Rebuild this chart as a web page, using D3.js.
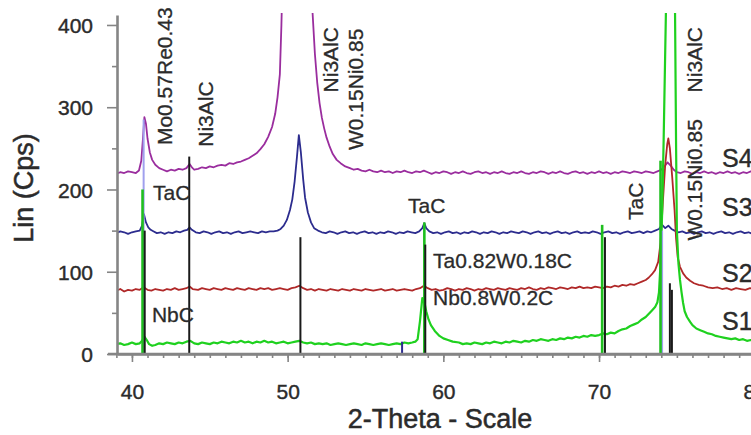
<!DOCTYPE html>
<html><head><meta charset="utf-8">
<script src="https://cdn.jsdelivr.net/npm/d3@7"></script>
<style>html,body{margin:0;padding:0;background:#fff;overflow:hidden}text{font-family:"Liberation Sans",Arial,sans-serif}</style>
</head><body><svg id="c" width="751" height="435"></svg>
<script>
// ---------- data (2-theta, Lin counts) ----------
const s1 = [[39.0,12],[39.25,13],[39.5,11],[39.75,12],[40.0,14],[40.25,12],[40.5,13],[40.65,16],[40.8,21],[40.95,17],[41.1,12],[41.3,10],[41.5,11],[41.75,13],[42.0,12],[42.25,14],[42.5,13],[42.75,12],[43.0,14],[43.25,13],[43.5,15],[43.75,16],[44.0,13],[44.25,12],[44.5,14],[44.75,13],[45.0,12],[45.25,14],[45.5,13],[45.75,15],[46.0,14],[46.25,13],[46.5,15],[46.75,14],[47.0,16],[47.25,14],[47.5,15],[47.75,13],[48.0,15],[48.25,14],[48.5,16],[48.75,14],[49.0,15],[49.25,13],[49.5,14],[49.75,15],[50.0,13],[50.25,14],[50.5,15],[50.75,16],[51.0,14],[51.25,13],[51.5,14],[51.75,12],[52.0,13],[52.25,12],[52.5,13],[52.75,11],[53.0,12],[53.25,13],[53.5,12],[53.75,11],[54.0,12],[54.25,13],[54.5,12],[54.75,11],[55.0,13],[55.25,12],[55.5,11],[55.75,12],[56.0,13],[56.25,12],[56.5,11],[56.75,12],[57.0,13],[57.25,12],[57.5,14],[57.75,13],[58.0,14],[58.2,15],[58.35,18],[58.5,40],[58.65,68],[58.75,66],[58.9,52],[59.05,42],[59.2,35],[59.45,28],[59.75,22],[60.0,19],[60.3,17],[60.6,15],[61.0,14],[61.25,12],[61.5,13],[61.75,12],[62.0,14],[62.25,13],[62.5,12],[62.75,14],[63.0,13],[63.25,15],[63.5,14],[63.75,13],[64.0,15],[64.25,14],[64.5,16],[64.75,15],[65.0,14],[65.25,16],[65.5,15],[65.75,17],[66.0,16],[66.25,18],[66.5,17],[66.75,16],[67.0,18],[67.25,17],[67.5,19],[67.75,18],[68.0,20],[68.25,19],[68.5,21],[68.75,20],[69.0,22],[69.25,21],[69.5,23],[69.75,22],[70.0,23],[70.25,25],[70.5,24],[70.75,26],[71.0,25],[71.25,28],[71.5,30],[71.75,31],[72.0,34],[72.25,36],[72.5,38],[72.75,42],[73.0,45],[73.2,49],[73.4,53],[73.6,57],[73.75,63],[73.85,75],[73.95,110],[74.05,170],[74.15,260],[74.3,420],[74.45,700],[74.6,900],[74.75,700],[74.88,420],[74.95,250],[75.0,150],[75.1,110],[75.2,90],[75.3,75],[75.4,62],[75.5,52],[75.65,45],[75.85,39],[76.0,35],[76.25,31],[76.5,29],[76.75,27],[77.0,25],[77.25,24],[77.5,22],[77.75,21],[78.0,20],[78.25,19],[78.5,18],[78.75,19],[79.0,17],[79.25,18],[79.5,16],[79.75,17],[80.0,16],[80.25,17],[80.5,16]];
const s2 = [[39.0,77],[39.25,79],[39.5,76],[39.75,78],[40.0,77],[40.25,79],[40.5,78],[40.75,81],[41.0,78],[41.25,77],[41.5,79],[41.75,78],[42.0,77],[42.25,79],[42.5,78],[42.75,80],[43.0,78],[43.25,79],[43.5,80],[43.7,82],[43.9,79],[44.25,78],[44.5,80],[44.75,79],[45.0,78],[45.25,80],[45.5,79],[45.75,78],[46.0,80],[46.25,79],[46.5,78],[46.75,80],[47.0,79],[47.25,78],[47.5,80],[47.75,79],[48.0,78],[48.25,80],[48.5,79],[48.75,80],[49.0,78],[49.25,79],[49.5,80],[49.75,79],[50.0,78],[50.25,80],[50.5,81],[50.75,83],[51.0,80],[51.25,78],[51.5,79],[51.75,77],[52.0,79],[52.25,78],[52.5,77],[52.75,79],[53.0,78],[53.25,77],[53.5,79],[53.75,78],[54.0,77],[54.25,79],[54.5,78],[54.75,77],[55.0,79],[55.25,78],[55.5,77],[55.75,78],[56.0,79],[56.25,77],[56.5,78],[56.75,79],[57.0,77],[57.25,78],[57.5,79],[57.75,78],[58.0,77],[58.25,79],[58.5,80],[58.75,83],[59.0,80],[59.25,78],[59.5,79],[59.75,77],[60.0,78],[60.25,80],[60.5,79],[60.75,77],[61.0,79],[61.25,78],[61.5,80],[61.75,79],[62.0,77],[62.25,79],[62.5,78],[62.75,80],[63.0,79],[63.25,78],[63.5,80],[63.75,79],[64.0,78],[64.25,80],[64.5,79],[64.75,78],[65.0,80],[65.25,79],[65.5,81],[65.75,79],[66.0,78],[66.25,80],[66.5,79],[66.75,81],[67.0,80],[67.25,79],[67.5,81],[67.75,80],[68.0,79],[68.25,81],[68.5,80],[68.75,82],[69.0,80],[69.25,81],[69.5,80],[69.75,82],[70.0,81],[70.25,80],[70.5,82],[70.75,81],[71.0,83],[71.25,82],[71.5,84],[71.75,83],[72.0,85],[72.25,84],[72.5,86],[72.75,88],[73.0,90],[73.2,93],[73.4,97],[73.6,102],[73.8,112],[73.95,135],[74.1,185],[74.25,230],[74.38,255],[74.45,262],[74.55,250],[74.7,215],[74.85,175],[74.95,140],[75.05,118],[75.2,106],[75.4,98],[75.6,93],[75.85,89],[76.1,86],[76.4,84],[76.7,83],[77.0,81],[77.3,80],[77.6,81],[77.9,79],[78.2,80],[78.5,78],[78.8,80],[79.1,79],[79.4,78],[79.7,80],[80.0,79],[80.5,78]];
const s3 = [[39.0,147],[39.25,149],[39.5,148],[39.75,146],[40.0,148],[40.25,149],[40.5,150],[40.65,156],[40.77,170],[40.9,160],[41.05,154],[41.2,151],[41.4,149],[41.6,147],[41.85,148],[42.1,146],[42.35,148],[42.6,147],[42.85,149],[43.1,148],[43.35,150],[43.55,151],[43.7,154],[43.85,151],[44.1,148],[44.35,147],[44.6,149],[44.85,148],[45.1,146],[45.35,148],[45.6,149],[45.85,147],[46.1,148],[46.35,146],[46.6,148],[46.85,149],[47.1,147],[47.35,148],[47.6,149],[47.85,148],[48.1,147],[48.35,149],[48.6,148],[48.85,149],[49.1,149],[49.35,150],[49.55,152],[49.75,156],[49.95,163],[50.15,175],[50.3,188],[50.45,210],[50.6,240],[50.72,266],[50.85,245],[51.0,212],[51.12,190],[51.3,172],[51.5,160],[51.7,153],[51.95,150],[52.2,148],[52.45,147],[52.7,149],[52.95,148],[53.2,146],[53.45,148],[53.7,149],[53.95,147],[54.2,148],[54.45,146],[54.7,148],[54.95,149],[55.2,147],[55.45,148],[55.7,146],[55.95,148],[56.2,147],[56.45,149],[56.7,148],[56.95,146],[57.2,148],[57.45,147],[57.7,149],[57.95,148],[58.2,147],[58.45,149],[58.65,153],[58.78,159],[58.9,153],[59.1,149],[59.35,147],[59.6,148],[59.85,146],[60.1,148],[60.35,149],[60.6,147],[60.85,148],[61.1,146],[61.35,148],[61.6,147],[61.85,149],[62.1,148],[62.35,146],[62.6,148],[62.85,147],[63.1,149],[63.35,148],[63.6,146],[63.85,148],[64.1,147],[64.35,149],[64.6,148],[64.85,147],[65.1,149],[65.35,148],[65.6,146],[65.85,148],[66.1,149],[66.35,147],[66.6,148],[66.85,146],[67.1,148],[67.35,149],[67.6,147],[67.85,148],[68.1,146],[68.35,148],[68.6,149],[68.85,147],[69.1,148],[69.35,147],[69.6,149],[69.85,148],[70.1,146],[70.35,148],[70.6,149],[70.85,147],[71.1,148],[71.35,146],[71.6,148],[71.85,149],[72.1,147],[72.35,148],[72.6,149],[72.85,147],[73.1,149],[73.35,148],[73.6,150],[73.85,152],[74.05,157],[74.25,153],[74.45,156],[74.65,152],[74.85,150],[75.1,148],[75.35,149],[75.6,147],[75.85,148],[76.1,146],[76.35,148],[76.6,149],[76.85,147],[77.1,148],[77.35,146],[77.6,148],[77.85,149],[78.1,147],[78.35,148],[78.6,146],[78.85,148],[79.1,149],[79.35,147],[79.6,148],[79.85,146],[80.1,148],[80.5,147]];
const s4 = [[39.0,219],[39.25,221],[39.5,220],[39.75,222],[40.0,221],[40.25,220],[40.45,223],[40.6,235],[40.7,260],[40.8,288],[40.9,280],[41.0,262],[41.15,245],[41.3,236],[41.5,230],[41.75,226],[42.0,224],[42.25,222],[42.5,224],[42.75,223],[43.0,225],[43.25,224],[43.5,226],[43.7,231],[43.85,227],[44.0,224],[44.25,225],[44.5,227],[44.75,226],[45.0,228],[45.25,227],[45.5,229],[45.75,230],[46.0,229],[46.25,232],[46.5,231],[46.75,233],[47.0,234],[47.25,236],[47.5,238],[47.75,241],[48.0,244],[48.25,249],[48.5,255],[48.75,264],[49.0,276],[49.2,292],[49.35,312],[49.5,340],[49.6,400],[49.75,520],[49.9,700],[50.1,1000],[50.4,1400],[50.65,1500],[50.9,1300],[51.15,950],[51.35,650],[51.5,480],[51.6,415],[51.75,365],[51.9,330],[52.05,305],[52.2,287],[52.35,274],[52.5,263],[52.7,252],[52.9,243],[53.15,236],[53.4,232],[53.7,228],[54.0,226],[54.25,224],[54.5,225],[54.75,223],[55.0,222],[55.25,224],[55.5,222],[55.75,221],[56.0,223],[56.25,221],[56.5,222],[56.75,220],[57.0,222],[57.25,221],[57.5,223],[57.75,221],[58.0,220],[58.25,222],[58.5,221],[58.75,223],[59.0,221],[59.25,219],[59.5,221],[59.75,220],[60.0,222],[60.25,221],[60.5,219],[60.75,221],[61.0,220],[61.25,222],[61.5,220],[61.75,219],[62.0,221],[62.25,222],[62.5,220],[62.75,221],[63.0,219],[63.25,221],[63.5,220],[63.75,222],[64.0,220],[64.25,219],[64.5,221],[64.75,220],[65.0,222],[65.25,220],[65.5,219],[65.75,221],[66.0,220],[66.25,222],[66.5,221],[66.75,219],[67.0,221],[67.25,220],[67.5,222],[67.75,220],[68.0,219],[68.25,221],[68.5,222],[68.75,220],[69.0,221],[69.25,219],[69.5,221],[69.75,220],[70.0,222],[70.25,220],[70.5,221],[70.75,219],[71.0,221],[71.25,220],[71.5,222],[71.75,221],[72.0,220],[72.25,222],[72.5,221],[72.75,220],[73.0,222],[73.25,221],[73.5,220],[73.75,222],[74.0,224],[74.2,228],[74.4,233],[74.6,229],[74.8,224],[75.0,221],[75.25,220],[75.5,222],[75.75,221],[76.0,219],[76.25,221],[76.5,220],[76.75,222],[77.0,220],[77.25,221],[77.5,219],[77.75,221],[78.0,220],[78.25,222],[78.5,220],[78.75,221],[79.0,219],[79.25,221],[79.5,220],[79.75,222],[80.0,220],[80.25,221],[80.5,220]];
const seriesNames = ["S1","S2","S3","S4"];

// reference pattern sticks [2theta, height]
const sticksLavender = [[40.75,285],[74.05,150]];
const sticksGreen = [[40.68,200],[58.78,160],[70.2,157],[73.95,235]];
const sticksBlack = [[40.82,150],[43.68,240],[50.82,142],[58.84,133],[70.38,142],[74.55,86],[74.68,78]];
const sticksNavy = [[57.35,15]];

// phase labels
const rotLabels = [["Mo0.57Re0.43",42.57,254],["Ni3AlC",45.2,252],["Ni3AlC",53.23,318],["W0.15Ni0.85",54.84,248],["TaC",72.83,163],["W0.15Ni0.85",76.62,138],["Ni3AlC",76.62,318]];
const flatLabels = [["TaC",41.35,187],["NbC",41.28,39],["TaC",57.73,171],["Ta0.82W0.18C",59.34,104.6],["Nb0.8W0.2C",59.34,59.6]];
const seriesLabelPos = [29,87.5,168,227];

const xTicks = [40,50,60,70,80];
const xMinorTicks = d3.range(39,82,1);
const yTicks = [0,100,200,300,400];
const yMinorTicks = [50,150,250,350];

// ---------- drawing ----------
const svg = d3.select("#c");
const x = d3.scaleLinear().domain([39.04,81]).range([117,770.3]);
const y = d3.scaleLinear().domain([0,412]).range([354,15.1]);
const axisCol = "#858585", textCol = "#2b2b2b";

svg.append("defs").append("clipPath").attr("id","clip").append("rect")
  .attr("x",117).attr("y",13).attr("width",660).attr("height",341);

const plot = svg.append("g").attr("clip-path","url(#clip)");
const line = d3.line().x(d=>x(d[0])).y(d=>y(d[1]));
const colors = {S1:"#1fd11f",S2:"#b02828",S3:"#2c2c8e",S4:"#9a2d9e"};
const data = {S1:s1,S2:s2,S3:s3,S4:s4};
["S4","S3","S2","S1"].forEach(k=>{
  plot.append("path").datum(data[k]).attr("d",line).attr("fill","none")
    .attr("stroke",colors[k]).attr("stroke-width",k==="S1"?2.2:1.8).attr("stroke-linejoin","round");
});

function sticks(arr,col,w){
  plot.selectAll(null).data(arr).enter().append("line")
    .attr("x1",d=>x(d[0])).attr("x2",d=>x(d[0]))
    .attr("y1",y(0)).attr("y2",d=>y(d[1]))
    .attr("stroke",col).attr("stroke-width",w);
}
sticks(sticksLavender,"#a0a0ee",2);
sticks(sticksGreen,"#1fbf1f",2.6);
sticks(sticksBlack,"#1a1a1a",2);
sticks(sticksNavy,"#2c2c8e",2);

// axes
const gx = svg.append("g").attr("transform",`translate(0,${y(0)})`);
gx.call(d3.axisBottom(x).tickValues(xMinorTicks).tickSize(4).tickFormat(""));
gx.call(g=>g.select(".domain").remove());
const gx2 = svg.append("g").attr("transform",`translate(0,${y(0)})`);
gx2.call(d3.axisBottom(x).tickValues(xTicks).tickSize(8).tickSizeOuter(0).tickFormat(d3.format("d")));
const gy = svg.append("g").attr("transform",`translate(${x(39.04)},0)`);
gy.call(d3.axisLeft(y).tickValues(yMinorTicks).tickSize(5).tickFormat(""));
gy.call(g=>g.select(".domain").remove());
const gy2 = svg.append("g").attr("transform",`translate(${x(39.04)},0)`);
gy2.call(d3.axisLeft(y).tickValues(yTicks).tickSize(10).tickSizeOuter(0).tickFormat(d3.format("d")));

[gx,gx2,gy,gy2].forEach(g=>{
  g.selectAll("line").attr("stroke",axisCol).attr("stroke-width",1.6);
  g.selectAll(".domain").attr("stroke",axisCol).attr("stroke-width",2.6);
});
gx2.selectAll("text").attr("y",30).attr("dy","0.71em").attr("font-size",21).attr("fill",textCol)
  .attr("stroke",textCol).attr("stroke-width",0.4).attr("font-family","Liberation Sans, Arial, sans-serif");
gy2.selectAll("text").attr("x",-24).attr("dy","0.36em").attr("font-size",21).attr("fill",textCol)
  .attr("stroke",textCol).attr("stroke-width",0.4).attr("font-family","Liberation Sans, Arial, sans-serif");
// extend x axis line a little left of y axis
svg.append("line").attr("x1",108).attr("x2",751).attr("y1",y(0)).attr("y2",y(0)).attr("stroke",axisCol).attr("stroke-width",2.6);

// axis titles
svg.append("text").attr("x",440).attr("y",428).attr("text-anchor","middle")
  .attr("font-size",27).attr("fill",textCol).attr("stroke",textCol).attr("stroke-width",0.5).text("2-Theta - Scale");
svg.append("text").attr("transform","translate(33,188) rotate(-90)").attr("text-anchor","middle")
  .attr("font-size",27).attr("fill",textCol).attr("stroke",textCol).attr("stroke-width",0.5).text("Lin (Cps)");

// labels
svg.selectAll(null).data(rotLabels).enter().append("text")
  .attr("transform",d=>`translate(${x(d[1])},${y(d[2])}) rotate(-90)`)
  .attr("font-size",21).attr("fill",textCol).attr("stroke",textCol).attr("stroke-width",0.3).text(d=>d[0]);
svg.selectAll(null).data(flatLabels).enter().append("text")
  .attr("x",d=>x(d[1])).attr("y",d=>y(d[2]))
  .attr("font-size",21).attr("fill",textCol).attr("stroke",textCol).attr("stroke-width",0.3).text(d=>d[0]);
svg.selectAll(null).data(seriesNames).enter().append("text")
  .attr("x",x(77.9)).attr("y",(d,i)=>y(seriesLabelPos[i]))
  .attr("font-size",25).attr("fill",textCol).attr("stroke",textCol).attr("stroke-width",0.4).text(d=>d);
</script></body></html>
